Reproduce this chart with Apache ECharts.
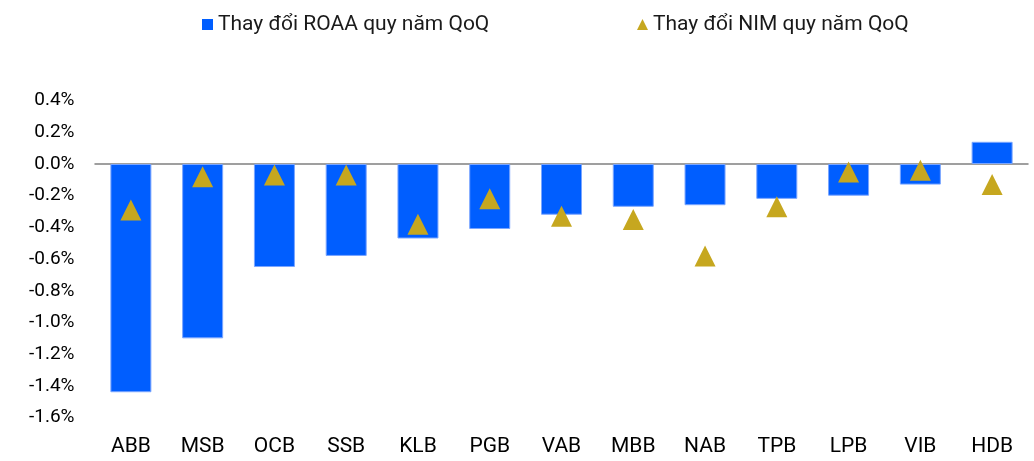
<!DOCTYPE html>
<html>
<head>
<meta charset="utf-8">
<title>ROAA / NIM QoQ</title>
<script src="https://cdn.jsdelivr.net/npm/echarts@6/dist/echarts.min.js"></script>
</head>
<body style="margin:0">
	<div id="main" style="width: 1034px; height: 461px;"></div>
	<script type="text/javascript">
		// ngân hàng
		var banks = ['ABB', 'MSB', 'OCB', 'SSB', 'KLB', 'PGB', 'VAB', 'MBB', 'NAB', 'TPB', 'LPB', 'VIB', 'HDB'];
		// thay đổi ROAA (%)
		var roaaChange = [-1.44, -1.10, -0.65, -0.58, -0.47, -0.41, -0.32, -0.27, -0.26, -0.22, -0.20, -0.13, 0.14];
		// thay đổi NIM (%)
		var nimChange = [-0.29, -0.08, -0.07, -0.07, -0.38, -0.22, -0.33, -0.35, -0.58, -0.27, -0.05, -0.04, -0.13];

		var font = 'Roboto';
		var myChart = echarts.init(document.getElementById('main'));
		myChart.setOption({
			animation: false,
			textStyle: { fontFamily: font },
			legend: [{
				left: 197, top: 9,
				itemWidth: 11, itemHeight: 11, itemGap: 6,
				textStyle: { fontSize: 21, color: '#1a1a1a', fontFamily: font },
				data: [{ name: 'Thay đổi ROAA quy năm QoQ', icon: 'rect', itemStyle: { borderWidth: 0 } }]
			}, {
				left: 632, top: 9,
				itemWidth: 11, itemHeight: 11, itemGap: 6,
				textStyle: { fontSize: 21, color: '#1a1a1a', fontFamily: font },
				data: [{ name: 'Thay đổi NIM quy năm QoQ', icon: 'triangle' }]
			}],
			grid: { left: 95, right: 6, top: 100.6, bottom: 43.4 },
			xAxis: [{
				// đường trục tại 0
				type: 'category', data: banks, position: 'bottom',
				axisLine: { onZero: true, lineStyle: { color: '#808080', width: 1.5 } },
				axisTick: { show: false },
				axisLabel: { show: false }
			}, {
				type: 'category', data: banks, position: 'bottom',
				axisLine: { show: false, onZero: false },
				axisTick: { show: false },
				axisLabel: { margin: 19, fontSize: 21, color: '#000', fontFamily: font }
			}],
			yAxis: {
				type: 'value', min: -1.6, max: 0.4, interval: 0.2,
				splitLine: { show: false },
				axisLine: { show: false },
				axisTick: { show: false },
				axisLabel: {
					margin: 20.5, fontSize: 19, color: '#000', fontFamily: font,
					formatter: function (v) { return v.toFixed(1) + '%'; }
				}
			},
			series: [{
				name: 'Thay đổi ROAA quy năm QoQ',
				type: 'bar', xAxisIndex: 0,
				barWidth: 41,
				itemStyle: { color: '#005EFF', borderColor: '#7AA6FF', borderWidth: 1 },
				data: roaaChange
			}, {
				name: 'Thay đổi NIM quy năm QoQ',
				type: 'scatter', xAxisIndex: 0,
				symbol: 'triangle', symbolSize: [21, 21],
				itemStyle: { color: '#C6A71F', opacity: 1 },
				z: 5,
				data: nimChange
			}]
		});
	</script>
</body>
</html>
